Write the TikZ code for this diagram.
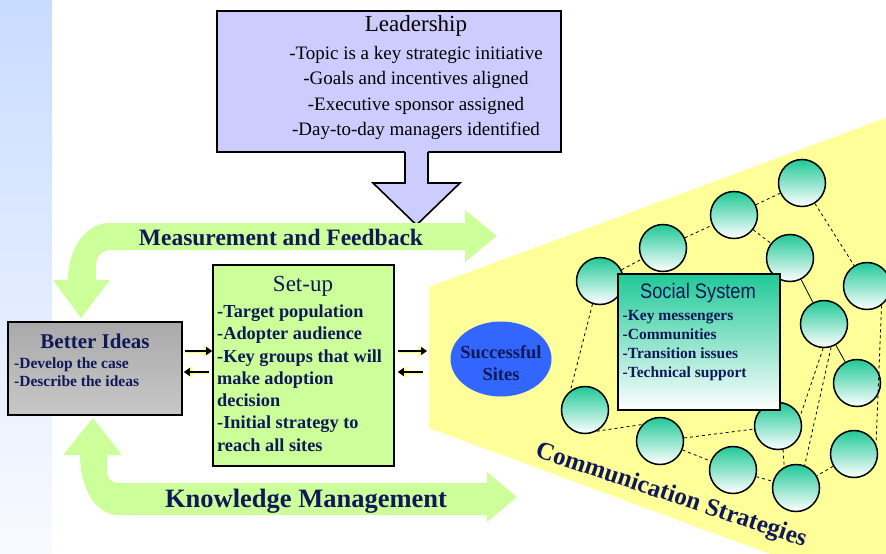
\documentclass[tikz,border=0pt]{standalone}
\usepackage{fontspec}
\setmainfont{Liberation Serif}
\newfontfamily\socialfont[FakeStretch=0.87]{Liberation Sans}
\usepackage{xcolor}
\usepackage{tikz}
\usetikzlibrary{arrows.meta,shapes.geometric,calc}

\definecolor{leadblue}{HTML}{CCCCFF}
\definecolor{loopgreen}{HTML}{CCFF99}
\definecolor{coneyellow}{HTML}{FFFF99}
\definecolor{glowyellow}{HTML}{FFFF66}
\definecolor{navytxt}{RGB}{16,24,88}
\definecolor{sitesblue}{HTML}{3366FF}
\definecolor{tealtop}{HTML}{20C997}
\definecolor{graytop}{HTML}{A9A9A9}
\definecolor{graybot}{HTML}{C8C8C8}
\definecolor{stripetop}{HTML}{C8DCFF}
\definecolor{stripebot}{HTML}{F8FAFF}

\begin{document}
\begin{tikzpicture}[x=1pt,y=-1pt,
  box/.style={draw=black, line width=1.6pt, inner sep=0pt},
  titletxt/.style={text=navytxt, inner sep=0pt},
  itemtxt/.style={text=navytxt, font=\bfseries, align=left, inner sep=0pt, anchor=north west},
  member/.style={circle, draw=black, line width=1.5pt, minimum size=47pt, inner sep=0pt, top color=tealtop, bottom color=white},
  link/.style={line width=0.8pt, dash pattern=on 3pt off 3pt},
  smallarr/.style={line width=1.5pt, -{Triangle[length=6pt,width=8pt]},
    preaction={draw=glowyellow, line width=3pt, -{Triangle[length=8.5pt,width=11pt]}}}]
  \useasboundingbox (0,0) rectangle (886,554);

  % left stripe
  \shade[top color=stripetop, bottom color=stripebot] (0,0) rectangle (52,554);

  % leadership
  \node[box, fill=leadblue, minimum width=344pt, minimum height=141pt] (lead) at (389,81.5) {};
  \node[inner sep=0pt, font=\fontsize{23}{26}\selectfont] (leadtitle) at (416,25.5) {Leadership};
  \node[inner sep=0pt, anchor=north, align=center, font=\fontsize{19}{25.5}\selectfont] (leadlist) at (416,46)
    {-Topic is a key strategic initiative\\-Goals and incentives aligned\\-Executive sponsor assigned\\-Day-to-day managers identified};
  \fill[leadblue] (405,150) -- (405,183) -- (373,183) -- (416.5,225) -- (460,183) -- (428,183) -- (428,150) -- cycle;
  \draw[line width=1.6pt] (405,152) -- (405,183) -- (373,183) -- (416.5,225) -- (460,183) -- (428,183) -- (428,152);

  % feedback loops
  \fill[loopgreen] (465,223) -- (465,210) -- (497,236) -- (465,262) -- (465,250) -- (112,250)
    .. controls (102,250) and (96,256) .. (96,266) -- (96,280) -- (110,280) -- (81,318) -- (53,280) -- (68,280)
    .. controls (68,248) and (86,223) .. (110,223) -- cycle;
  \node[titletxt, font=\bfseries\fontsize{23.5}{26}\selectfont] (feedback) at (281,237) {Measurement and Feedback};
  \fill[loopgreen] (487,483) -- (487,472) -- (517,497) -- (487,522) -- (487,515) -- (118,515)
    .. controls (97,515) and (80,490) .. (80,455) -- (63,455) -- (93,418) -- (122,455) -- (107,455) -- (107,470)
    .. controls (107,478) and (111,483) .. (118,483) -- cycle;
  \node[titletxt, font=\bfseries\fontsize{26.5}{29}\selectfont] (knowledge) at (306,501.5) {Knowledge Management};

  % better ideas
  \node[box, top color=graytop, bottom color=graybot, minimum width=174pt, minimum height=93pt] (better) at (95,368.5) {};
  \node[titletxt, font=\bfseries\fontsize{21}{24}\selectfont] (bettertitle) at (95,341) {Better Ideas};
  \node[itemtxt, font=\bfseries\fontsize{15.5}{18}\selectfont] (betterlist) at (14,358)
    {-Develop the case\\-Describe the ideas};

  % set-up
  \node[box, fill=loopgreen, minimum width=181pt, minimum height=201pt] (setup) at (303.5,365.5) {};
  \node[titletxt, font=\fontsize{23}{26}\selectfont] (setuptitle) at (303,286) {Set-up};
  \node[itemtxt, font=\bfseries\fontsize{18.3}{22.3}\selectfont] (setuplist) at (217,304.5)
    {-Target population\\-Adopter audience\\-Key groups that will\\make adoption\\decision\\-Initial strategy to\\reach all sites};

  % communication cone
  \coordinate (coneL) at (429,357);
  \fill[coneyellow] (429,287) -- (886,118) -- (886,554) -- (770,554) -- (429,428) -- cycle;
  \node[titletxt, rotate=-18.5, font=\bfseries\fontsize{25}{28}\selectfont] (commtxt) at (671,496) {Communication Strategies};

  \node[ellipse, fill=sitesblue, minimum width=101pt, minimum height=75pt, inner sep=0pt] (sites) at (501,359) {};
  \node[titletxt, align=center, font=\bfseries\fontsize{18.5}{22}\selectfont] (sitestxt) at (501,363.5) {Successful\\Sites};

  % arrows between the stages
  \coordinate (rowA) at (0,351);
  \coordinate (rowB) at (0,372);
  \draw[smallarr] ($(better.east |- rowA)+(2,0)$) -- (setup.west |- rowA);
  \draw[smallarr] ($(setup.west |- rowB)+(-3,0)$) -- ($(better.east |- rowB)+(1,0)$);
  \draw[smallarr] ($(setup.east |- rowA)+(3,0)$) -- ($(coneL |- rowA)+(-2,0)$);
  \draw[smallarr] ($(coneL |- rowB)+(-6,0)$) -- ($(setup.east |- rowB)+(3,0)$);

  % social network
  \foreach \n/\px/\py in {1/802/183, 2/734/215, 3/663/248, 4/600/281, 5/790/258, 6/867/286, 7/824/324,
      8/857/383, 9/854/454, 10/778/426, 11/796/488, 12/733/470, 13/660/441, 14/585/410}
    \node[member] (c\n) at (\px,\py) {};

  \draw[link] (c4) -- (c3);
  \draw[link] (c3) -- (c2);
  \draw[link] (c2) -- (c1);
  \draw[link] (c2) -- (c5);
  \draw[link] (c1) -- (c6);
  \draw[line width=0.8pt] (c5) -- (c7);
  \draw[line width=0.8pt] (c7) -- (c8);
  \draw[link] (c6.-53) -- (c9.25);
  \draw[link] (c4.-108) -- (c14.127);
  \draw[link] (c14.-61) -- (c13.137);
  \draw[link] (c13) -- (c10);
  \draw[link] (c13) -- (c12);
  \draw[link] (c12) -- (c11);
  \draw[link] (c10.-78) -- (c11.119);
  \draw[link] (c7.-92) -- (c10.24);
  \draw[link] (c7.-73) -- (c11.69);
  \draw[link] (c9) -- (c11);

  \node[box, top color=tealtop, bottom color=white, minimum width=162pt, minimum height=136pt] (social) at (699,342) {};
  \node[titletxt, font=\socialfont\fontsize{21}{24}\selectfont] (socialtitle) at (698,293) {Social System};
  \node[itemtxt, font=\bfseries\fontsize{15.5}{19.3}\selectfont] (sociallist) at (622.5,309.7)
    {-Key messengers\\-Communities\\-Transition issues\\-Technical support};
\end{tikzpicture}
\end{document}
